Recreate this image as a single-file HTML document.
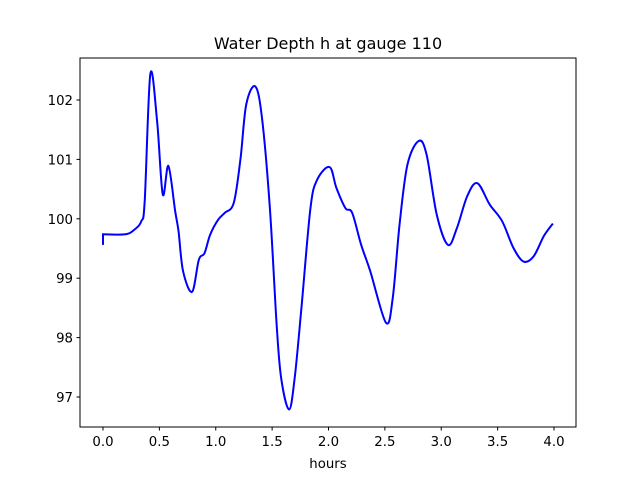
<!DOCTYPE html>
<html><head><meta charset="utf-8"><style>
body{margin:0;background:#fff}
svg text{font-family:"DejaVu Sans","Liberation Sans",sans-serif;fill:#000}
</style></head><body>
<svg id="chart" width="640" height="480">
<rect width="640" height="480" fill="#fff"/>
<text x="328" y="49" font-size="16" text-anchor="middle">Water Depth h at gauge 110</text>
<text x="328" y="468" font-size="13.3" text-anchor="middle">hours</text>
<g id="ticks"></g>
<path id="line" fill="none" stroke="#0000ff" stroke-width="2"/>
<rect x="80" y="58" width="496" height="369" fill="none" stroke="#000" stroke-width="1"/>
</svg>
<script>
const hours=[0,0,0.2,0.28,0.34,0.37,0.42,0.48,0.53,0.58,0.64,0.67,0.71,0.79,0.85,0.90,0.95,1.02,1.08,1.16,1.22,1.27,1.35,1.41,1.48,1.54,1.58,1.65,1.70,1.76,1.84,1.90,2.01,2.07,2.15,2.21,2.29,2.37,2.51,2.57,2.63,2.70,2.80,2.87,2.96,3.06,3.14,3.23,3.32,3.43,3.54,3.64,3.73,3.82,3.91,3.99];
const depth=[99.56,99.74,99.74,99.82,99.96,100.3,102.44,101.64,100.41,100.89,100.13,99.79,99.12,98.77,99.31,99.42,99.73,99.98,100.10,100.27,101.02,101.92,102.23,101.70,100.18,98.22,97.32,96.79,97.32,98.50,100.18,100.66,100.87,100.52,100.18,100.10,99.56,99.12,98.25,98.67,99.90,100.91,101.31,101.08,100.07,99.56,99.85,100.38,100.60,100.24,99.96,99.51,99.28,99.37,99.71,99.92];
const xTicks=[0,0.5,1,1.5,2,2.5,3,3.5,4];
const yTicks=[97,98,99,100,101,102];
const X=v=>103+v*112.75;
const Y=v=>100+(102-v)*59.4;
const ns="http://www.w3.org/2000/svg";
const g=document.getElementById('ticks');
xTicks.forEach(t=>{
 const l=document.createElementNS(ns,'line');
 
 
 l.setAttribute('x1',X(t));l.setAttribute('x2',X(t));l.setAttribute('y1',427);l.setAttribute('y2',430.5);l.setAttribute('stroke','#000');g.appendChild(l);
 const tx=document.createElementNS(ns,'text');
 
 
 tx.setAttribute('x',X(t));tx.setAttribute('y',446);tx.setAttribute('font-size','13.3');tx.setAttribute('text-anchor','middle');tx.textContent=t.toFixed(1);g.appendChild(tx);
});
yTicks.forEach(t=>{
 const l=document.createElementNS(ns,'line');
 
 
 l.setAttribute('x1',76.5);l.setAttribute('x2',80);l.setAttribute('y1',Y(t));l.setAttribute('y2',Y(t));l.setAttribute('stroke','#000');g.appendChild(l);
 const tx=document.createElementNS(ns,'text');
 
 
 tx.setAttribute('x',73);tx.setAttribute('y',Y(t)+5);tx.setAttribute('font-size','13.3');tx.setAttribute('text-anchor','end');tx.textContent=t;g.appendChild(tx);
});
const P=hours.map((h,i)=>[X(h),Y(depth[i])]);
let d=`M${P[0][0]},${P[0][1]}L${P[1][0]},${P[1][1]}`;
for(let i=1;i<P.length-1;i++){
 const p0=P[Math.max(i-1,1)],p1=P[i],p2=P[i+1],p3=P[Math.min(i+2,P.length-1)];
 const c1=[p1[0]+(p2[0]-p0[0])/6,p1[1]+(p2[1]-p0[1])/6];
 const c2=[p2[0]-(p3[0]-p1[0])/6,p2[1]-(p3[1]-p1[1])/6];
 d+=`C${c1[0]},${c1[1]} ${c2[0]},${c2[1]} ${p2[0]},${p2[1]}`;
}
document.getElementById('line').setAttribute('d',d);
</script>
</body></html>
